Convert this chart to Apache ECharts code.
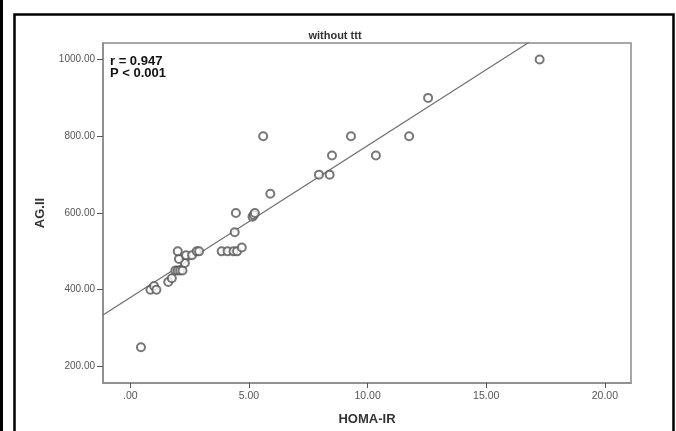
<!DOCTYPE html>
<html>
<head>
<meta charset="utf-8">
<script src="https://cdn.jsdelivr.net/npm/echarts@6/dist/echarts.min.js"></script>
<style>
  html, body { margin: 0; padding: 0; background: #fff; }
  #chart { width: 676px; height: 431px; }
</style>
</head>
<body>
<div id="chart"></div>
<script>
// scatter values
const homaIR = [0.45, 0.85, 1.0, 1.1, 1.6, 1.75, 1.9, 2.0, 2.1, 2.2, 2.3, 2.05, 2.0, 2.35, 2.6, 2.8, 2.9,
  3.85, 4.1, 4.35, 4.5, 4.7, 4.4, 4.45, 5.15, 5.2, 5.25, 5.6, 5.9, 7.95, 8.4, 8.5, 9.3, 10.35, 11.75, 12.55, 17.25];
const ag2 = [250, 400, 410, 400, 420, 430, 450, 450, 450, 450, 470, 480, 500, 490, 490, 500, 500,
  500, 500, 500, 500, 510, 550, 600, 590, 595, 600, 800, 650, 700, 700, 750, 800, 750, 800, 900, 1000];

// fitted line
const fitIntercept = 379.5;
const fitSlope = 39.6;

const xRange = [-1.15, 21.1];
const yRange = [157, 1043];
const xTicks = [0, 5, 10, 15, 20];
const yTicks = [200, 400, 600, 800, 1000];

const chart = echarts.init(document.getElementById('chart'));
const fontFamily = "'Liberation Sans', Arial, sans-serif";
const fmt = v => v === 0 ? '.00' : v.toFixed(2);
const frameColor = '#8a8a8a';

const option = {
  animation: false,
  backgroundColor: '#fff',
  title: {
    text: 'without ttt',
    left: 330,
    top: 25,
    textAlign: 'center',
    textStyle: { fontFamily: fontFamily, fontSize: 11, fontWeight: 'bold', color: '#333' }
  },
  grid: {
    left: 103, right: 45, top: 43, bottom: 45,
    show: true,
    borderColor: frameColor,
    borderWidth: 1.5
  },
  xAxis: {
    type: 'value',
    min: xRange[0],
    max: xRange[1],
    name: 'HOMA-IR',
    nameLocation: 'middle',
    nameGap: 30,
    nameTextStyle: { fontFamily: fontFamily, fontSize: 13, fontWeight: 'bold', color: '#333' },
    axisLine: { show: true, onZero: false, lineStyle: { color: frameColor, width: 1.5 } },
    axisTick: { show: true, length: 5, customValues: xTicks, lineStyle: { color: '#555' } },
    axisLabel: { customValues: xTicks, formatter: fmt, margin: 8, fontFamily: fontFamily, fontSize: 10.5, color: '#555' },
    splitLine: { show: false }
  },
  yAxis: {
    type: 'value',
    min: yRange[0],
    max: yRange[1],
    name: 'AG.II',
    nameLocation: 'middle',
    nameGap: 56,
    nameTextStyle: { fontFamily: fontFamily, fontSize: 13, fontWeight: 'bold', color: '#333' },
    axisLine: { show: true, onZero: false, lineStyle: { color: frameColor, width: 1.5 } },
    axisTick: { show: true, length: 6, customValues: yTicks, lineStyle: { color: '#555' } },
    axisLabel: { customValues: yTicks, formatter: fmt, margin: 8, fontFamily: fontFamily, fontSize: 10, color: '#555' },
    splitLine: { show: false }
  },
  graphic: [
    { type: 'rect', shape: { x: 0, y: 0, width: 3, height: 431 }, style: { fill: '#000' } },
    { type: 'polyline', shape: { points: [[14.5, 431], [14.5, 14.5], [673.5, 14.5], [673.5, 431]] },
      style: { stroke: '#000', lineWidth: 2.5, fill: null } },
    { type: 'text', left: 110, top: 55,
      style: { text: 'r = 0.947\nP < 0.001', fontFamily: fontFamily, fontSize: 13, fontWeight: 'bold',
        fill: '#111', lineHeight: 12 } }
  ],
  series: [
    {
      type: 'line',
      data: xRange.map(x => [x, fitIntercept + fitSlope * x]),
      symbol: 'none',
      clip: true,
      lineStyle: { color: '#6e6e6e', width: 1.2 },
      z: 1
    },
    {
      type: 'scatter',
      data: homaIR.map((x, i) => [x, ag2[i]]),
      symbol: 'emptyCircle',
      symbolSize: 8,
      itemStyle: { color: '#555', borderWidth: 1.2 },
      z: 2
    }
  ]
};

chart.setOption(option);
</script>
</body>
</html>
